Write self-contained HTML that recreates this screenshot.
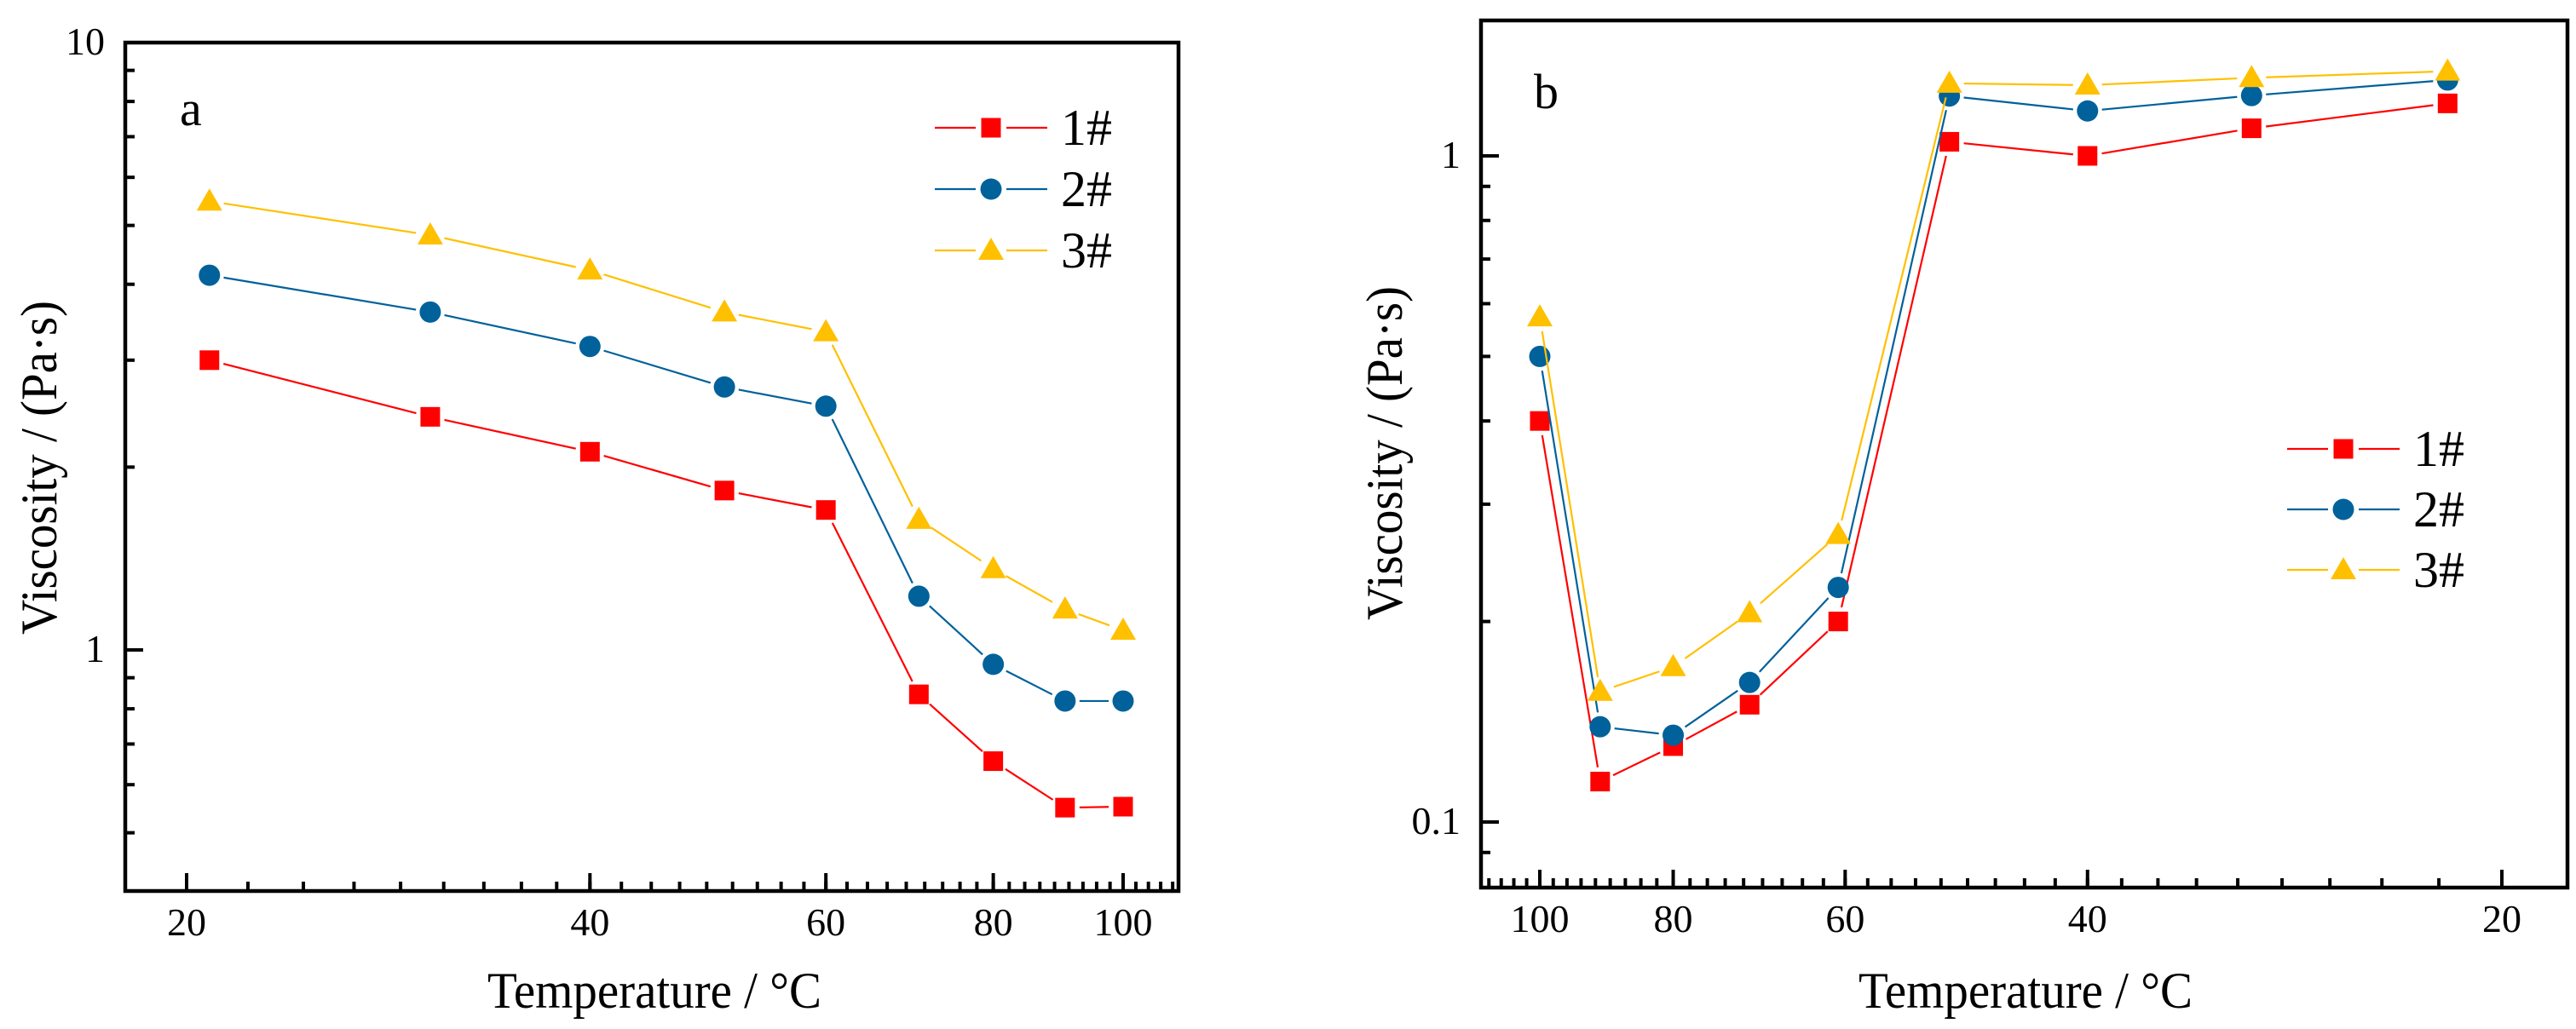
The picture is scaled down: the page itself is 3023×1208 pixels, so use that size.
<!DOCTYPE html>
<html><head><meta charset="utf-8"><style>
html,body{margin:0;padding:0;background:#fff}
svg{display:block;font-family:"Liberation Serif","Times New Roman",serif}
text{font-family:"Liberation Serif","Times New Roman",serif;fill:#000}
</style></head><body>
<svg id="s" width="3023" height="1208" viewBox="0 0 3023 1208" xmlns="http://www.w3.org/2000/svg" font-family="Liberation Serif, serif">
<g id="pa"></g>
<g id="pb"></g>
</svg>
<script>
// Panel a data
const tempA = [20.8, 30.4, 40, 50.4, 60, 70.4, 80, 90.5, 100];
const visA1 = [3.0, 2.42, 2.12, 1.83, 1.70, 0.845, 0.656, 0.55, 0.552];
const visA2 = [4.14, 3.60, 3.16, 2.71, 2.52, 1.226, 0.947, 0.824, 0.824];
const visA3 = [5.48, 4.82, 4.22, 3.60, 3.34, 1.64, 1.36, 1.167, 1.077];
const xTicksA = [20, 40, 60, 80, 100];
const yTicksA = [1, 10];
// Panel b data
const tempB = [100, 90.4, 80, 70.4, 60.7, 50.4, 40, 30.4, 21.9];
const visB1 = [0.40, 0.115, 0.130, 0.150, 0.200, 1.05, 1.0, 1.10, 1.199];
const visB2 = [0.50, 0.139, 0.135, 0.162, 0.225, 1.23, 1.168, 1.232, 1.30];
const visB3 = [0.573, 0.157, 0.171, 0.206, 0.27, 1.285, 1.277, 1.31, 1.34];
const xTicksB = [100, 80, 60, 40, 20];
const yTicksB = [0.1, 1];
const seriesNames = ["1#", "2#", "3#"];

const NS = "http://www.w3.org/2000/svg";
const FONT = "'Liberation Serif', 'Times New Roman', serif";
const COLORS = ["#ff0000", "#00619b", "#ffc000"];
function mk(tag, attrs, parent) {
  const e = document.createElementNS(NS, tag);
  for (const k in attrs) e.setAttribute(k, attrs[k]);
  if (tag === "text") e.setAttribute("font-family", FONT);
  parent.appendChild(e);
  return e;
}
function logScale(v1, p1, v2, p2) {
  const k = (p2 - p1) / (Math.log10(v2) - Math.log10(v1));
  return v => p1 + (Math.log10(v) - Math.log10(v1)) * k;
}
function marker(g, type, x, y, color) {
  let e;
  if (type === 0) e = mk("rect", {x: x - 11.5, y: y - 11.5, width: 23, height: 23, fill: color}, g);
  else if (type === 1) e = mk("circle", {cx: x, cy: y, r: 12.5, fill: color}, g);
  else e = mk("polygon", {points: `${x},${y - 15} ${x + 15},${y + 11} ${x - 15},${y + 11}`, fill: color}, g);
  return e;
}
function drawPanel(g, cfg) {
  const {L, R, T, B, xs, ys, temps, series, xTicks, xMinorFrom, xMinorTo, yTicks, yMinor, xtitleX, ytitleX, ytitleY, letter, letterX, letterY, legX, legY} = cfg;
  series.forEach((vals, si) => {
    const sg = mk("g", {}, g);
    
    
    const pts = temps.map((t, i) => [xs(t), ys(vals[i])]);
    for (let i = 0; i < pts.length - 1; i++) {
      const [x1, y1] = pts[i], [x2, y2] = pts[i + 1];
      const d = Math.hypot(x2 - x1, y2 - y1), gap = 17;
      if (d <= 2 * gap) continue;
      const ux = (x2 - x1) / d, uy = (y2 - y1) / d;
      const ln = mk("line", {x1: x1 + ux * gap, y1: y1 + uy * gap, x2: x2 - ux * gap, y2: y2 - uy * gap, stroke: COLORS[si], "stroke-width": 2.2}, sg);
      
      
    }
    pts.forEach(p => {
      const m = marker(sg, si, p[0], p[1], COLORS[si]);
      
      
    });
  });
  const fr = mk("rect", {x: L, y: T, width: R - L, height: B - T, fill: "none", stroke: "#000", "stroke-width": 4.5}, g);
  
  
  const xg = mk("g", {}, g);
  
  
  for (let v = xMinorFrom; v <= xMinorTo + 1e-6; v += 20 / 9) {
    const x = xs(v);
    if (x < L + 3 || x > R - 3) continue;
    mk("line", {x1: x, y1: B, x2: x, y2: B - 11, stroke: "#000", "stroke-width": 4}, xg);
  }
  xTicks.forEach(v => {
    const x = xs(v);
    mk("line", {x1: x, y1: B, x2: x, y2: B - 21, stroke: "#000", "stroke-width": 4}, xg);
    const t = mk("text", {x: x, y: B + 52, "font-size": 46, "text-anchor": "middle"}, xg);
    t.textContent = v;
    
    
  });
  const yg = mk("g", {}, g);
  
  
  yMinor.forEach(v => {
    const y = ys(v);
    if (y < T + 3 || y > B - 3) return;
    mk("line", {x1: L, y1: y, x2: L + 11, y2: y, stroke: "#000", "stroke-width": 4}, yg);
  });
  yTicks.forEach(v => {
    const y = ys(v);
    mk("line", {x1: L, y1: y, x2: L + 21, y2: y, stroke: "#000", "stroke-width": 4}, yg);
    const t = mk("text", {x: L - 24, y: y + 14, "font-size": 46, "text-anchor": "end"}, yg);
    t.textContent = v;
    
    
  });
  const xt = mk("text", {x: xtitleX, y: 1183, "font-size": 60, "text-anchor": "middle", textLength: 392, lengthAdjust: "spacingAndGlyphs"}, g);
  xt.textContent = "Temperature / \u00B0C";
  
  
  const yt = mk("text", {x: 0, y: 0, "font-size": 60, "text-anchor": "middle", "dominant-baseline": "central", textLength: 392, lengthAdjust: "spacingAndGlyphs", transform: `translate(${ytitleX},${ytitleY}) rotate(-90)`}, g);
  yt.textContent = "Viscosity / (Pa\u00B7s)";
  
  
  const lt = mk("text", {x: letterX, y: letterY, "font-size": 58}, g);
  lt.textContent = letter;
  
  
  const lg = mk("g", {}, g);
  
  
  seriesNames.forEach((nm, i) => {
    const y = legY[i];
    const eg = mk("g", {}, lg);
    
    
    mk("line", {x1: legX, y1: y, x2: legX + 48, y2: y, stroke: COLORS[i], "stroke-width": 2.2}, eg);
    mk("line", {x1: legX + 84, y1: y, x2: legX + 132, y2: y, stroke: COLORS[i], "stroke-width": 2.2}, eg);
    marker(eg, i, legX + 66, y, COLORS[i]);
    const t = mk("text", {x: legX + 148, y: y + 20, "font-size": 60}, eg);
    t.textContent = nm;
  });
}
const minorY = [];
[0.01, 0.1, 1].forEach(d => { for (let k = 2; k <= 9; k++) minorY.push(d * k); });

drawPanel(document.getElementById("pa"), {
  L: 147, R: 1383, T: 50, B: 1046,
  xs: logScale(20, 219, 100, 1318), ys: logScale(1, 763, 10, 50),
  temps: tempA, series: [visA1, visA2, visA3],
  xTicks: xTicksA, xMinorFrom: 20 - 20 / 9, xMinorTo: 112,
  yTicks: yTicksA, yMinor: minorY,
  xtitleX: 768, ytitleX: 46, ytitleY: 549,
  letter: "a", letterX: 211, letterY: 147,
  legX: 1097, legY: [150, 222, 294]
});
drawPanel(document.getElementById("pb"), {
  L: 1738, R: 3013, T: 24, B: 1042,
  xs: logScale(100, 1807, 20, 2936), ys: logScale(1, 183, 0.1, 965),
  temps: tempB, series: [visB1, visB2, visB3],
  xTicks: xTicksB, xMinorFrom: 20 - 20 / 9, xMinorTo: 112,
  yTicks: yTicksB, yMinor: minorY,
  xtitleX: 2377, ytitleX: 1625, ytitleY: 532,
  letter: "b", letterX: 1800, letterY: 127,
  legX: 2684, legY: [527, 598, 669]
});
</script>
</body></html>
